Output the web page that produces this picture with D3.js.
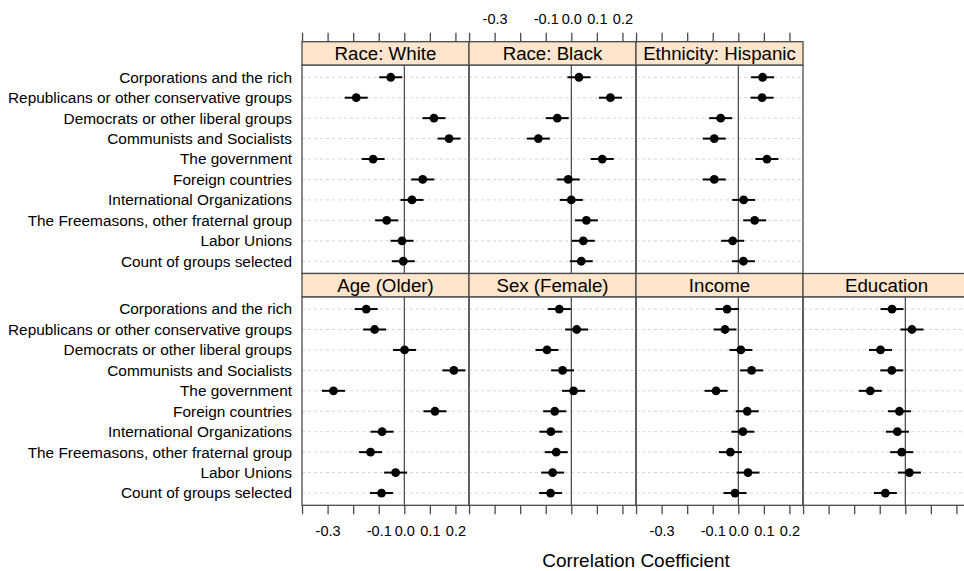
<!DOCTYPE html>
<html><head><meta charset="utf-8">
<script src="https://cdn.jsdelivr.net/npm/d3@7/dist/d3.min.js"></script>
<style>
body{margin:0;background:#fff;overflow:hidden;}
svg{display:block;font-family:"Liberation Sans",Arial,Helvetica,sans-serif;}
</style>
</head><body>
<svg id="chart" width="964" height="571"></svg>
<script>
// ---- data ----
const groups = [
  "Corporations and the rich",
  "Republicans or other conservative groups",
  "Democrats or other liberal groups",
  "Communists and Socialists",
  "The government",
  "Foreign countries",
  "International Organizations",
  "The Freemasons, other fraternal group",
  "Labor Unions",
  "Count of groups selected"
];
const panelNames = ["Race: White","Race: Black","Ethnicity: Hispanic","Age (Older)","Sex (Female)","Income","Education"];
const raceWhite   = [-0.053,-0.188, 0.116, 0.175,-0.122, 0.072, 0.030,-0.069,-0.009,-0.004];
const raceBlack   = [ 0.030, 0.153,-0.055,-0.129, 0.121,-0.012, 0.000, 0.059, 0.047, 0.039];
const hispanic    = [ 0.095, 0.093,-0.069,-0.094, 0.112,-0.094, 0.021, 0.064,-0.022, 0.020];
const ageOlder    = [-0.149,-0.116, 0.001, 0.194,-0.277, 0.120,-0.087,-0.132,-0.034,-0.089];
const sexFemale   = [-0.047, 0.021,-0.095,-0.034, 0.009,-0.065,-0.080,-0.059,-0.073,-0.081];
const income      = [-0.044,-0.052, 0.010, 0.052,-0.087, 0.035, 0.018,-0.031, 0.038,-0.013];
const education   = [-0.052, 0.026,-0.097,-0.053,-0.137,-0.023,-0.031,-0.014, 0.016,-0.078];
const ciHalfWidth = [0.045,0.045,0.045,0.045,0.045,0.045,0.045];
const xTicks      = [-0.4,-0.3,-0.2,-0.1,0.0,0.1,0.2];
const xTickLabels = ["","-0.3","","-0.1","0.0","0.1","0.2"];
const xTitle = "Correlation Coefficient";

const panelValues = [raceWhite, raceBlack, hispanic, ageOlder, sexFemale, income, education];
// row/col placement (lattice layout 4 x 2)
const panelPos = [[0,0],[0,1],[0,2],[1,0],[1,1],[1,2],[1,3]];

// ---- layout ----
const left0 = 302, panelW = 167;
const top0 = 41.7, stripH = 23.3, panelH = 208.5;
const borderCol = "#4a4a4a";

const svg = d3.select("#chart");

const x = d3.scaleLinear().domain([-0.4002, 0.2531]).range([0, panelW]);
const y = d3.scaleLinear().domain([0.4, 10.6]).range([0, panelH]);
const tickFmt = d => xTickLabels[xTicks.indexOf(d)];

panelNames.forEach((name, pi) => {
  const [r, c] = panelPos[pi];
  const px = left0 + c * panelW;
  const stripY = top0 + r * (stripH + panelH);
  const py = stripY + stripH;
  const g = svg.append("g").attr("transform", `translate(${px},${py})`);

  // dotted guide lines
  g.selectAll("line.guide").data(groups).join("line")
    .attr("class","guide")
    .attr("x1", 0).attr("x2", panelW)
    .attr("y1", (d,i) => y(i+1)).attr("y2", (d,i) => y(i+1))
    .attr("stroke", "#d6d6d6").attr("stroke-width", 1)
    .attr("stroke-dasharray", "3,3");

  // zero reference line
  g.append("line")
    .attr("x1", x(0)).attr("x2", x(0))
    .attr("y1", 0).attr("y2", panelH)
    .attr("stroke", "#333").attr("stroke-width", 1.1);

  const vals = panelValues[pi];
  const h = ciHalfWidth[pi];
  // error bars
  g.selectAll("line.ci").data(vals).join("line")
    .attr("class","ci")
    .attr("x1", d => x(d - h)).attr("x2", d => x(d + h))
    .attr("y1", (d,i) => y(i+1)).attr("y2", (d,i) => y(i+1))
    .attr("stroke", "#000").attr("stroke-width", 2);
  // points
  g.selectAll("circle").data(vals).join("circle")
    .attr("cx", d => x(d)).attr("cy", (d,i) => y(i+1))
    .attr("r", 4.4).attr("fill", "#000");

  // panel border
  g.append("rect").attr("x",0).attr("y",0).attr("width",panelW).attr("height",panelH)
    .attr("fill","none").attr("stroke",borderCol).attr("stroke-width",1.3);

  // strip
  const sg = svg.append("g").attr("transform", `translate(${px},${stripY})`);
  sg.append("rect").attr("width", panelW).attr("height", stripH)
    .attr("fill", "#ffe5cc").attr("stroke", borderCol).attr("stroke-width", 1.3);
  sg.append("text").attr("x", panelW/2).attr("y", 18)
    .attr("text-anchor","middle").attr("font-size", "18.7px").attr("fill","#000")
    .text(name);

  // top axis for top row
  if (r === 0) {
    const ax = svg.append("g").attr("transform", `translate(${px},${stripY})`)
      .call(d3.axisTop(x).tickValues(xTicks).tickSize(9).tickPadding(9)
        .tickFormat(c % 2 === 1 ? tickFmt : () => ""));
    ax.select(".domain").remove();
    ax.selectAll("line").attr("stroke", borderCol).attr("stroke-width", 1.3);
    ax.selectAll("text").attr("font-size","14.5px").attr("fill","#000")
      .attr("font-family",'"Liberation Sans",Arial,sans-serif');
  }
  // bottom axis for bottom row
  if (r === 1) {
    const ax = svg.append("g").attr("transform", `translate(${px},${py + panelH})`)
      .call(d3.axisBottom(x).tickValues(xTicks).tickSize(9).tickPadding(11)
        .tickFormat(c % 2 === 0 ? tickFmt : () => ""));
    ax.select(".domain").remove();
    ax.selectAll("line").attr("stroke", borderCol).attr("stroke-width", 1.3);
    ax.selectAll("text").attr("font-size","14.5px").attr("fill","#000")
      .attr("font-family",'"Liberation Sans",Arial,sans-serif');
  }

  // row labels on first column
  if (c === 0) {
    svg.append("g").attr("transform", `translate(${px - 10},${py})`)
      .selectAll("text").data(groups).join("text")
      .attr("x", 0).attr("y", (d,i) => y(i+1)).attr("dy","0.35em")
      .attr("text-anchor","end").attr("font-size","15.4px").attr("fill","#000")
      .text(d => d);
  }
});

// axis title
svg.append("text")
  .attr("x", left0 + 2 * panelW).attr("y", 567)
  .attr("text-anchor","middle").attr("font-size","19px").attr("fill","#000")
  .text(xTitle);
</script>
</body></html>
